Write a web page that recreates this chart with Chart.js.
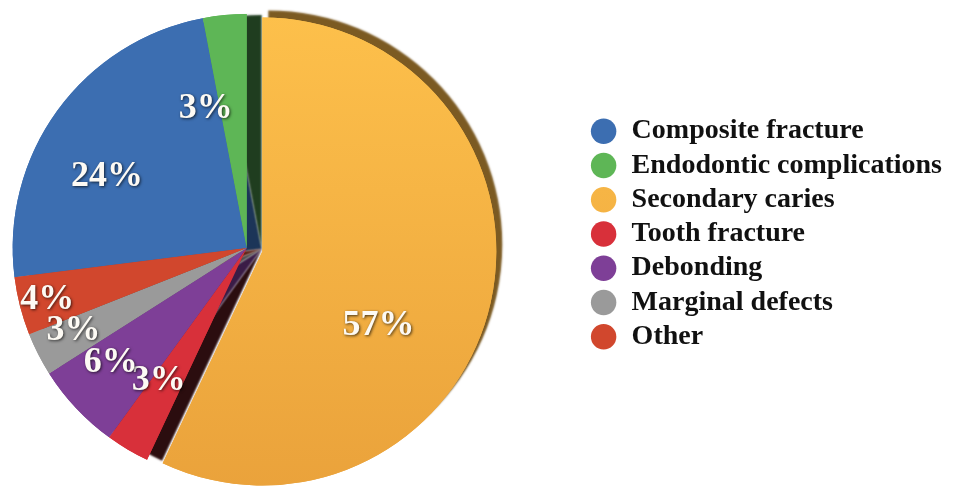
<!DOCTYPE html>
<html>
<head>
<meta charset="utf-8">
<script src="https://cdn.jsdelivr.net/npm/chart.js@4.4.1/dist/chart.umd.min.js"></script>
<style>
  html, body { margin:0; padding:0; background:#fff; overflow:hidden; }
  /* canvas pokes out on the left so the pie can sit further left than chart.js would put it */
  #wrap { position:absolute; left:-90px; top:0; width:1056px; height:492px; }
</style>
</head>
<body>
<div id="wrap"><canvas id="chart"></canvas></div>
<script>
const categories = ['Composite fracture', 'Endodontic complications', 'Secondary caries', 'Tooth fracture', 'Debonding', 'Marginal defects', 'Other'];
const shares = [24, 3, 57, 3, 6, 3, 4];
const sliceColors = ['#3c6eb1', '#5eb656', '#f7b441', '#d8303a', '#7e3f97', '#9a9a9a', '#d1472d'];
// darker "side wall" colours for the fake 3d look
const sideColors = ['#1c3558', '#1f3d1f', '#7b5a22', '#2b0d0f', '#3a1c46', '#4a4a4a', '#5a1e12'];
const explode = [0, 0, 16, 0, 0, 0, 0];   // px the slice is pulled out
// where the % labels sit: shift from slice middle (deg) and fraction of radius
const labelShift = [-9, -11, 20, 3, 3, 1.5, 0];
const labelDepth = [0.67, 0.62, 0.59, 0.68, 0.76, 0.82, 0.88];

const total = shares.reduce((a, b) => a + b, 0);

// the big slice gets a soft top-to-bottom shading like the original
function sliceFill(c) {
  const i = c.dataIndex;
  if (i !== 2) return sliceColors[i];
  const g = c.chart.ctx.createLinearGradient(0, 10, 0, 490);
  g.addColorStop(0, '#fdc04b');
  g.addColorStop(1, '#eaa23b');
  return g;
}

// chart.js offset also grows the slice, so pull it out by hand and draw the walls first
const explodedPie = {
  id: 'explodedPie',
  beforeDatasetDraw(chart, args) {
    const ctx = chart.ctx;
    const arcs = args.meta.data;
    const place = (arc, i) => {
      const mid = (arc.startAngle + arc.endAngle) / 2;
      ctx.translate(Math.cos(mid) * explode[i], Math.sin(mid) * explode[i]);
    };
    // pass 1: hard shadows give the side walls
    arcs.forEach((arc, i) => {
      ctx.save();
      place(arc, i);
      ctx.shadowColor = sideColors[i];
      ctx.shadowBlur = 2;
      ctx.shadowOffsetX = explode[i] ? 6 : 15;
      ctx.shadowOffsetY = explode[i] ? -7 : 1;
      arc.draw(ctx);
      ctx.restore();
    });
    // pass 2: the slices on top
    arcs.forEach((arc, i) => {
      ctx.save();
      place(arc, i);
      arc.draw(ctx);
      ctx.restore();
    });
    return false;
  }
};

const sliceLabels = {
  id: 'sliceLabels',
  afterDatasetsDraw(chart) {
    const ctx = chart.ctx;
    chart.getDatasetMeta(0).data.forEach((arc, i) => {
      const p = arc.getProps(['x', 'y', 'startAngle', 'endAngle', 'outerRadius'], true);
      const mid = (p.startAngle + p.endAngle) / 2;
      const a = mid + labelShift[i] * Math.PI / 180;
      const r = p.outerRadius * labelDepth[i];
      const px = p.x + Math.cos(mid) * explode[i] + Math.cos(a) * r;
      const py = p.y + Math.sin(mid) * explode[i] + Math.sin(a) * r;
      ctx.save();
      ctx.font = 'bold 36px "Liberation Serif"';
      ctx.textAlign = 'center';
      ctx.textBaseline = 'middle';
      ctx.shadowColor = 'rgba(0,0,0,0.7)';
      ctx.shadowBlur = 3;
      ctx.shadowOffsetX = 1;
      ctx.shadowOffsetY = 1;
      ctx.fillStyle = '#fdfaf4';
      ctx.fillText(shares[i] + '%', px, py);
      ctx.restore();
    });
  }
};

new Chart(document.getElementById('chart'), {
  type: 'pie',
  data: {
    labels: categories,
    datasets: [{
      data: shares,
      backgroundColor: sliceFill,
      borderWidth: 0,
      clip: false
    }]
  },
  options: {
    responsive: true,
    maintainAspectRatio: false,
    animation: false,
    // first two slices sit left of 12 o'clock
    rotation: -(shares[0] + shares[1]) / total * 360,
    radius: 234,
    layout: { padding: { left: 0, right: 14, top: 111, bottom: 107 } },
    plugins: {
      legend: {
        position: 'right',
        align: 'start',
        labels: {
          usePointStyle: true,
          pointStyle: 'circle',
          boxWidth: 28,
          boxHeight: 18,
          padding: 6.25,
          color: '#111',
          font: { family: 'Liberation Serif', size: 28, weight: 'bold' }
        }
      },
      tooltip: { enabled: false }
    }
  },
  plugins: [explodedPie, sliceLabels]
});
</script>
</body>
</html>
